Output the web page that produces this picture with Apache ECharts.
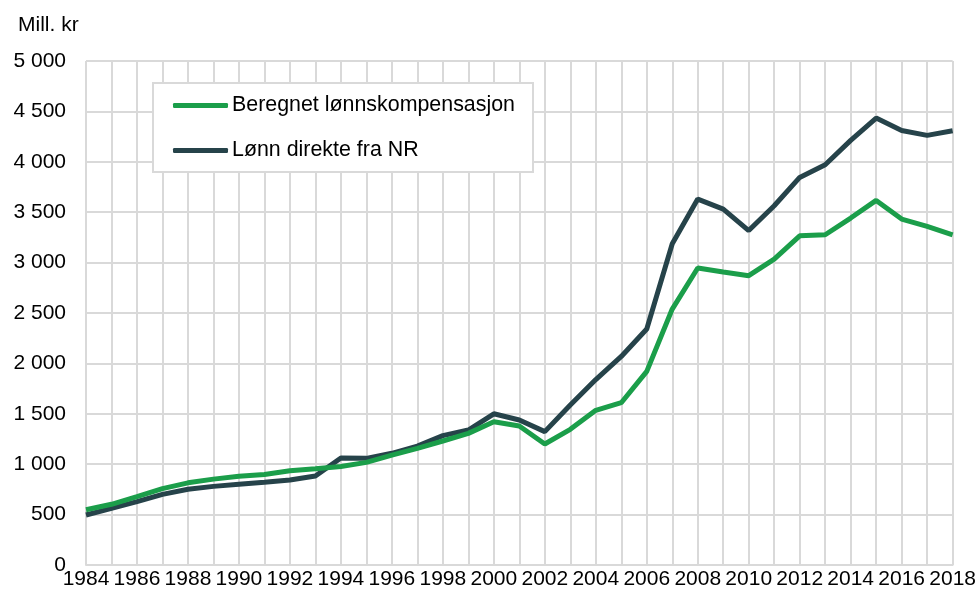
<!DOCTYPE html>
<html><head><meta charset="utf-8">
<script src="https://cdn.jsdelivr.net/npm/echarts@6/dist/echarts.min.js"></script>
<style>html,body{margin:0;padding:0;background:#fff}#c{width:979px;height:592px}</style>
</head><body><div id="c"></div>
<script>
const years = ['1984','1985','1986','1987','1988','1989','1990','1991','1992','1993','1994','1995','1996','1997','1998','1999','2000','2001','2002','2003','2004','2005','2006','2007','2008','2009','2010','2011','2012','2013','2014','2015','2016','2017','2018'];
const beregnet = [548,602,678,758,815,852,880,898,935,955,978,1018,1090,1157,1230,1306,1422,1379,1200,1346,1535,1610,1921,2539,2946,2906,2870,3035,3266,3276,3442,3617,3432,3359,3276];
const direkte = [496,562,628,701,751,780,800,820,843,883,1062,1058,1108,1180,1283,1339,1500,1438,1323,1587,1840,2069,2341,3187,3630,3531,3318,3564,3845,3971,4212,4434,4311,4262,4308];
const seriesNames = ['Beregnet lønnskompensasjon','Lønn direkte fra NR'];
const colors = ['#1b9e4a','#26434a'];
const font = 'Liberation Sans, Arial, sans-serif';

const chart = echarts.init(document.getElementById('c'), null, {renderer:'canvas'});
chart.setOption({
  animation:false,
  backgroundColor:'#ffffff',
  textStyle:{fontFamily:font},
  graphic:[{type:'text',left:18,top:15,style:{text:'Mill. kr',font:'21px '+font,fill:'#000'}}],
  grid:{left:86,right:26,top:61,bottom:27,containLabel:false},
  legend:{
    orient:'vertical',left:153,top:83,
    padding:[12,18,11,20],itemGap:24,itemWidth:55,itemHeight:5,
    icon:'roundRect',
    backgroundColor:'#fff',borderColor:'#d9d9d9',borderWidth:2,borderRadius:0,
    textStyle:{fontSize:21.4,color:'#000',fontFamily:font,padding:[0,0,0,-1]},
    data:seriesNames
  },
  xAxis:{
    type:'category',data:years,boundaryGap:false,
    axisLine:{show:true,lineStyle:{color:'#d9d9d9',width:2}},
    axisTick:{show:false},
    axisLabel:{interval:1,margin:4,fontSize:21,color:'#000',fontFamily:font},
    splitLine:{show:true,interval:0,lineStyle:{color:'#d9d9d9',width:2}}
  },
  yAxis:{
    type:'value',min:0,max:5000,interval:500,
    axisLine:{show:false},axisTick:{show:false},
    axisLabel:{margin:20,fontSize:21,color:'#000',fontFamily:font,
      formatter:v=>v>=1000?Math.floor(v/1000)+' '+String(v%1000).padStart(3,'0'):String(v)},
    splitLine:{show:true,lineStyle:{color:'#d9d9d9',width:2}}
  },
  series:[
    {name:seriesNames[0],type:'line',data:beregnet,showSymbol:false,symbol:'none',
     lineStyle:{color:colors[0],width:5},itemStyle:{color:colors[0]},z:3},
    {name:seriesNames[1],type:'line',data:direkte,showSymbol:false,symbol:'none',
     lineStyle:{color:colors[1],width:5},itemStyle:{color:colors[1]},z:2}
  ]
});
</script></body></html>
